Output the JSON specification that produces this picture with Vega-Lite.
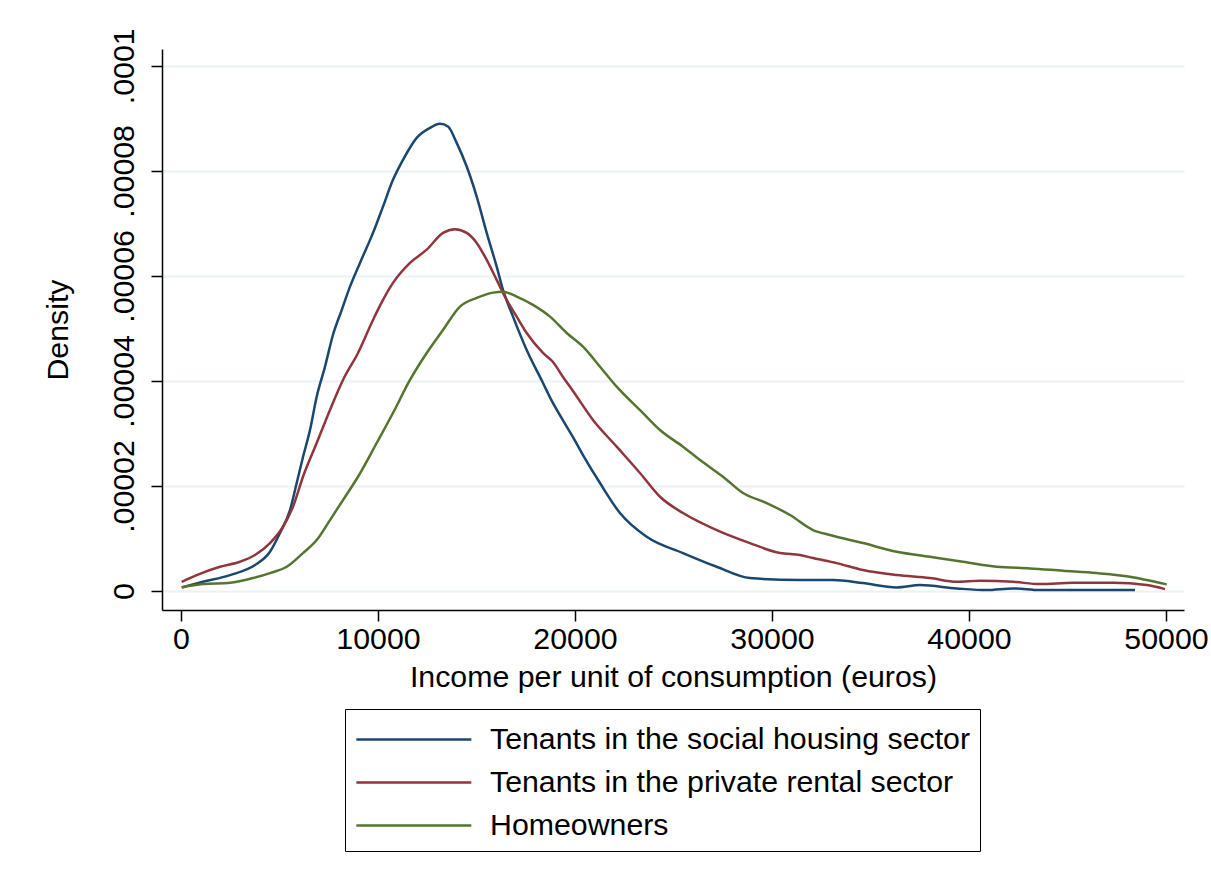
{
  "$schema": "https://vega.github.io/schema/vega-lite/v6.json",
  "width": 1022,
  "height": 561,
  "autosize": {"type": "none"},
  "padding": {"left": 162, "top": 49, "right": 27, "bottom": 271},
  "background": "white",
  "config": {
    "view": {"stroke": null},
    "font": "Liberation Sans",
    "axis": {
      "labelFont": "Liberation Sans",
      "titleFont": "Liberation Sans",
      "labelFontSize": 30.3,
      "titleFontSize": 30.3,
      "titleFontWeight": "normal",
      "labelColor": "#000000",
      "titleColor": "#000000",
      "domainColor": "#000000",
      "tickColor": "#000000",
      "domainWidth": 1.5,
      "tickWidth": 1.5,
      "tickSize": 11
    }
  },
  "data": {
    "values": [
      {"x": 36, "d": 0.00000070, "g": "Tenants in the social housing sector"},
      {"x": 1117, "d": 0.00000177, "g": "Tenants in the social housing sector"},
      {"x": 2487, "d": 0.00000305, "g": "Tenants in the social housing sector"},
      {"x": 3756, "d": 0.00000495, "g": "Tenants in the social housing sector"},
      {"x": 4518, "d": 0.00000749, "g": "Tenants in the social housing sector"},
      {"x": 5025, "d": 0.00001105, "g": "Tenants in the social housing sector"},
      {"x": 5533, "d": 0.00001543, "g": "Tenants in the social housing sector"},
      {"x": 5873, "d": 0.00002057, "g": "Tenants in the social housing sector"},
      {"x": 6193, "d": 0.00002552, "g": "Tenants in the social housing sector"},
      {"x": 6548, "d": 0.00003067, "g": "Tenants in the social housing sector"},
      {"x": 6888, "d": 0.00003700, "g": "Tenants in the social housing sector"},
      {"x": 7310, "d": 0.00004272, "g": "Tenants in the social housing sector"},
      {"x": 7716, "d": 0.00004880, "g": "Tenants in the social housing sector"},
      {"x": 8157, "d": 0.00005350, "g": "Tenants in the social housing sector"},
      {"x": 8579, "d": 0.00005796, "g": "Tenants in the social housing sector"},
      {"x": 9086, "d": 0.00006248, "g": "Tenants in the social housing sector"},
      {"x": 9746, "d": 0.00006819, "g": "Tenants in the social housing sector"},
      {"x": 10254, "d": 0.00007320, "g": "Tenants in the social housing sector"},
      {"x": 10761, "d": 0.00007829, "g": "Tenants in the social housing sector"},
      {"x": 11269, "d": 0.00008210, "g": "Tenants in the social housing sector"},
      {"x": 11964, "d": 0.00008629, "g": "Tenants in the social housing sector"},
      {"x": 12640, "d": 0.00008819, "g": "Tenants in the social housing sector"},
      {"x": 13147, "d": 0.00008895, "g": "Tenants in the social housing sector"},
      {"x": 13553, "d": 0.00008844, "g": "Tenants in the social housing sector"},
      {"x": 13995, "d": 0.00008533, "g": "Tenants in the social housing sector"},
      {"x": 14503, "d": 0.00008082, "g": "Tenants in the social housing sector"},
      {"x": 15010, "d": 0.00007510, "g": "Tenants in the social housing sector"},
      {"x": 15518, "d": 0.00006819, "g": "Tenants in the social housing sector"},
      {"x": 16025, "d": 0.00006177, "g": "Tenants in the social housing sector"},
      {"x": 16345, "d": 0.00005733, "g": "Tenants in the social housing sector"},
      {"x": 16853, "d": 0.00005225, "g": "Tenants in the social housing sector"},
      {"x": 17548, "d": 0.00004590, "g": "Tenants in the social housing sector"},
      {"x": 18376, "d": 0.00003962, "g": "Tenants in the social housing sector"},
      {"x": 18782, "d": 0.00003650, "g": "Tenants in the social housing sector"},
      {"x": 19391, "d": 0.00003250, "g": "Tenants in the social housing sector"},
      {"x": 19898, "d": 0.00002930, "g": "Tenants in the social housing sector"},
      {"x": 20406, "d": 0.00002590, "g": "Tenants in the social housing sector"},
      {"x": 21269, "d": 0.00002057, "g": "Tenants in the social housing sector"},
      {"x": 22284, "d": 0.00001486, "g": "Tenants in the social housing sector"},
      {"x": 23640, "d": 0.00001034, "g": "Tenants in the social housing sector"},
      {"x": 25482, "d": 0.00000724, "g": "Tenants in the social housing sector"},
      {"x": 27193, "d": 0.00000463, "g": "Tenants in the social housing sector"},
      {"x": 28883, "d": 0.00000248, "g": "Tenants in the social housing sector"},
      {"x": 31421, "d": 0.00000210, "g": "Tenants in the social housing sector"},
      {"x": 33096, "d": 0.00000210, "g": "Tenants in the social housing sector"},
      {"x": 34619, "d": 0.00000152, "g": "Tenants in the social housing sector"},
      {"x": 36330, "d": 0.00000070, "g": "Tenants in the social housing sector"},
      {"x": 37513, "d": 0.00000114, "g": "Tenants in the social housing sector"},
      {"x": 39376, "d": 0.00000051, "g": "Tenants in the social housing sector"},
      {"x": 40898, "d": 0.00000019, "g": "Tenants in the social housing sector"},
      {"x": 42234, "d": 0.00000051, "g": "Tenants in the social housing sector"},
      {"x": 43604, "d": 0.00000019, "g": "Tenants in the social housing sector"},
      {"x": 45635, "d": 0.00000019, "g": "Tenants in the social housing sector"},
      {"x": 48426, "d": 0.00000019, "g": "Tenants in the social housing sector"},

      {"x": 36, "d": 0.00000177, "g": "Tenants in the private rental sector"},
      {"x": 797, "d": 0.00000305, "g": "Tenants in the private rental sector"},
      {"x": 1980, "d": 0.00000463, "g": "Tenants in the private rental sector"},
      {"x": 2995, "d": 0.00000558, "g": "Tenants in the private rental sector"},
      {"x": 3756, "d": 0.00000686, "g": "Tenants in the private rental sector"},
      {"x": 4518, "d": 0.00000914, "g": "Tenants in the private rental sector"},
      {"x": 5178, "d": 0.00001225, "g": "Tenants in the private rental sector"},
      {"x": 5685, "d": 0.00001606, "g": "Tenants in the private rental sector"},
      {"x": 6193, "d": 0.00002177, "g": "Tenants in the private rental sector"},
      {"x": 6888, "d": 0.00002819, "g": "Tenants in the private rental sector"},
      {"x": 7563, "d": 0.00003448, "g": "Tenants in the private rental sector"},
      {"x": 8223, "d": 0.00004019, "g": "Tenants in the private rental sector"},
      {"x": 8985, "d": 0.00004533, "g": "Tenants in the private rental sector"},
      {"x": 9746, "d": 0.00005162, "g": "Tenants in the private rental sector"},
      {"x": 10254, "d": 0.00005543, "g": "Tenants in the private rental sector"},
      {"x": 10761, "d": 0.00005867, "g": "Tenants in the private rental sector"},
      {"x": 11624, "d": 0.00006248, "g": "Tenants in the private rental sector"},
      {"x": 12472, "d": 0.00006500, "g": "Tenants in the private rental sector"},
      {"x": 13299, "d": 0.00006819, "g": "Tenants in the private rental sector"},
      {"x": 13909, "d": 0.00006890, "g": "Tenants in the private rental sector"},
      {"x": 14503, "d": 0.00006819, "g": "Tenants in the private rental sector"},
      {"x": 15010, "d": 0.00006629, "g": "Tenants in the private rental sector"},
      {"x": 15518, "d": 0.00006305, "g": "Tenants in the private rental sector"},
      {"x": 16025, "d": 0.00005924, "g": "Tenants in the private rental sector"},
      {"x": 16533, "d": 0.00005543, "g": "Tenants in the private rental sector"},
      {"x": 17041, "d": 0.00005225, "g": "Tenants in the private rental sector"},
      {"x": 17548, "d": 0.00004914, "g": "Tenants in the private rental sector"},
      {"x": 18376, "d": 0.00004533, "g": "Tenants in the private rental sector"},
      {"x": 18883, "d": 0.00004360, "g": "Tenants in the private rental sector"},
      {"x": 19391, "d": 0.00004076, "g": "Tenants in the private rental sector"},
      {"x": 19898, "d": 0.00003810, "g": "Tenants in the private rental sector"},
      {"x": 20914, "d": 0.00003257, "g": "Tenants in the private rental sector"},
      {"x": 22117, "d": 0.00002749, "g": "Tenants in the private rental sector"},
      {"x": 23299, "d": 0.00002248, "g": "Tenants in the private rental sector"},
      {"x": 24315, "d": 0.00001796, "g": "Tenants in the private rental sector"},
      {"x": 25482, "d": 0.00001486, "g": "Tenants in the private rental sector"},
      {"x": 27193, "d": 0.00001162, "g": "Tenants in the private rental sector"},
      {"x": 28883, "d": 0.00000914, "g": "Tenants in the private rental sector"},
      {"x": 30406, "d": 0.00000724, "g": "Tenants in the private rental sector"},
      {"x": 31421, "d": 0.00000686, "g": "Tenants in the private rental sector"},
      {"x": 32081, "d": 0.00000629, "g": "Tenants in the private rental sector"},
      {"x": 33284, "d": 0.00000533, "g": "Tenants in the private rental sector"},
      {"x": 34619, "d": 0.00000400, "g": "Tenants in the private rental sector"},
      {"x": 36330, "d": 0.00000305, "g": "Tenants in the private rental sector"},
      {"x": 38020, "d": 0.00000248, "g": "Tenants in the private rental sector"},
      {"x": 39376, "d": 0.00000177, "g": "Tenants in the private rental sector"},
      {"x": 40558, "d": 0.00000196, "g": "Tenants in the private rental sector"},
      {"x": 42234, "d": 0.00000177, "g": "Tenants in the private rental sector"},
      {"x": 43604, "d": 0.00000133, "g": "Tenants in the private rental sector"},
      {"x": 45279, "d": 0.00000158, "g": "Tenants in the private rental sector"},
      {"x": 47310, "d": 0.00000158, "g": "Tenants in the private rental sector"},
      {"x": 49020, "d": 0.00000114, "g": "Tenants in the private rental sector"},
      {"x": 49949, "d": 0.00000038, "g": "Tenants in the private rental sector"},

      {"x": 36, "d": 0.00000070, "g": "Homeowners"},
      {"x": 1117, "d": 0.00000133, "g": "Homeowners"},
      {"x": 2487, "d": 0.00000158, "g": "Homeowners"},
      {"x": 3655, "d": 0.00000248, "g": "Homeowners"},
      {"x": 4518, "d": 0.00000343, "g": "Homeowners"},
      {"x": 5365, "d": 0.00000463, "g": "Homeowners"},
      {"x": 6193, "d": 0.00000724, "g": "Homeowners"},
      {"x": 6888, "d": 0.00000971, "g": "Homeowners"},
      {"x": 7563, "d": 0.00001352, "g": "Homeowners"},
      {"x": 8223, "d": 0.00001733, "g": "Homeowners"},
      {"x": 8985, "d": 0.00002177, "g": "Homeowners"},
      {"x": 9934, "d": 0.00002819, "g": "Homeowners"},
      {"x": 10761, "d": 0.00003390, "g": "Homeowners"},
      {"x": 11624, "d": 0.00004019, "g": "Homeowners"},
      {"x": 12472, "d": 0.00004533, "g": "Homeowners"},
      {"x": 13299, "d": 0.00004971, "g": "Homeowners"},
      {"x": 14162, "d": 0.00005415, "g": "Homeowners"},
      {"x": 15010, "d": 0.00005581, "g": "Homeowners"},
      {"x": 15838, "d": 0.00005682, "g": "Homeowners"},
      {"x": 16345, "d": 0.00005701, "g": "Homeowners"},
      {"x": 17041, "d": 0.00005606, "g": "Homeowners"},
      {"x": 17868, "d": 0.00005448, "g": "Homeowners"},
      {"x": 18731, "d": 0.00005225, "g": "Homeowners"},
      {"x": 19579, "d": 0.00004914, "g": "Homeowners"},
      {"x": 20406, "d": 0.00004653, "g": "Homeowners"},
      {"x": 21269, "d": 0.00004272, "g": "Homeowners"},
      {"x": 22117, "d": 0.00003891, "g": "Homeowners"},
      {"x": 23452, "d": 0.00003390, "g": "Homeowners"},
      {"x": 24315, "d": 0.00003067, "g": "Homeowners"},
      {"x": 25482, "d": 0.00002749, "g": "Homeowners"},
      {"x": 26345, "d": 0.00002495, "g": "Homeowners"},
      {"x": 27513, "d": 0.00002177, "g": "Homeowners"},
      {"x": 28528, "d": 0.00001867, "g": "Homeowners"},
      {"x": 29731, "d": 0.00001676, "g": "Homeowners"},
      {"x": 30914, "d": 0.00001448, "g": "Homeowners"},
      {"x": 32081, "d": 0.00001162, "g": "Homeowners"},
      {"x": 32944, "d": 0.00001067, "g": "Homeowners"},
      {"x": 34619, "d": 0.00000914, "g": "Homeowners"},
      {"x": 36330, "d": 0.00000749, "g": "Homeowners"},
      {"x": 38020, "d": 0.00000653, "g": "Homeowners"},
      {"x": 39695, "d": 0.00000558, "g": "Homeowners"},
      {"x": 41406, "d": 0.00000463, "g": "Homeowners"},
      {"x": 43096, "d": 0.00000432, "g": "Homeowners"},
      {"x": 44772, "d": 0.00000387, "g": "Homeowners"},
      {"x": 46482, "d": 0.00000343, "g": "Homeowners"},
      {"x": 48173, "d": 0.00000272, "g": "Homeowners"},
      {"x": 49020, "d": 0.00000210, "g": "Homeowners"},
      {"x": 50036, "d": 0.00000128, "g": "Homeowners"}
    ]
  },
  "mark": {"type": "line", "strokeWidth": 2.5, "interpolate": "monotone"},
  "encoding": {
    "x": {
      "field": "x",
      "type": "quantitative",
      "scale": {"domain": [-964, 50914], "nice": false, "zero": false},
      "axis": {
        "title": "Income per unit of consumption (euros)",
        "values": [0, 10000, 20000, 30000, 40000, 50000],
        "format": "d",
        "grid": false,
        "labelPadding": 3,
        "titlePadding": 8,
        "labelFlush": false
      }
    },
    "y": {
      "field": "d",
      "type": "quantitative",
      "scale": {"domain": [-0.0000036, 0.0001032], "nice": false, "zero": false},
      "axis": {
        "title": "Density",
        "values": [0, 0.00002, 0.00004, 0.00006, 0.00008, 0.0001],
        "labelExpr": "datum.value == 0 ? '0' : slice(format(datum.value, '.5~f'), 1)",
        "labelAngle": -90,
        "labelAlign": "center",
        "labelBaseline": "bottom",
        "labelPadding": 12,
        "titlePadding": 36,
        "grid": true,
        "gridColor": "#eaf2f3",
        "gridWidth": 2,
        "labelFlush": false
      }
    },
    "color": {
      "field": "g",
      "type": "nominal",
      "scale": {
        "domain": ["Tenants in the social housing sector", "Tenants in the private rental sector", "Homeowners"],
        "range": ["#1a476f", "#90353b", "#55752f"]
      },
      "legend": {
        "orient": "none",
        "legendX": 183,
        "legendY": 660,
        "direction": "vertical",
        "title": null,
        "strokeColor": "#000000",
        "fillColor": "#ffffff",
        "padding": 10,
        "symbolType": "M-1,0H5",
        "symbolSize": 1469,
        "symbolStrokeWidth": 2.5,
        "symbolFillColor": "transparent",
        "labelFont": "Liberation Sans",
        "labelFontSize": 30.3,
        "labelColor": "#000000",
        "labelOffset": 94,
        "rowPadding": 7,
        "labelLimit": 0
      }
    }
  }
}
